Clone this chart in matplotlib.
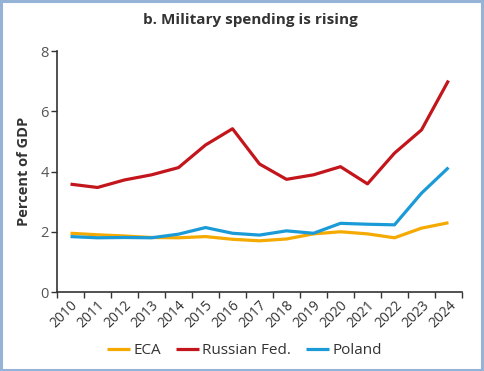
import matplotlib
matplotlib.use("Agg")
import matplotlib.pyplot as plt
from matplotlib.patches import Rectangle
import numpy as np

years = [str(y) for y in range(2010, 2025)]
eca = [1.95, 1.90, 1.86, 1.81, 1.80, 1.84, 1.75, 1.70, 1.76, 1.93, 2.00, 1.93, 1.80, 2.12, 2.30]
russia = [3.58, 3.47, 3.72, 3.89, 4.13, 4.88, 5.42, 4.25, 3.74, 3.89, 4.16, 3.59, 4.61, 5.38, 7.02]
poland = [1.84, 1.80, 1.81, 1.80, 1.92, 2.14, 1.95, 1.89, 2.03, 1.95, 2.28, 2.25, 2.23, 3.28, 4.13]
yticks = [0, 2, 4, 6, 8]

plt.rcParams['font.family'] = ['Open Sans', 'DejaVu Sans']
text_color = '#333333'

fig = plt.figure(figsize=(4.84, 3.71), dpi=100)
ax = fig.add_axes([0.1178, 0.2129, 0.8367, 0.6496])

x = np.arange(len(years))
ax.plot(x, eca, color='#F4AA00', lw=2.3, label='ECA', solid_capstyle='butt')
ax.plot(x, russia, color='#C3161C', lw=2.3, label='Russian Fed.', solid_capstyle='butt')
ax.plot(x, poland, color='#1A9BD7', lw=2.3, label='Poland', solid_capstyle='butt')

ax.set_xlim(-0.5, len(years) - 0.5)
ax.set_ylim(0, 8)
ax.set_yticks(yticks)
ax.set_yticklabels([str(v) for v in yticks], fontsize=10.5, color='#555555')
ax.set_xticks(np.arange(-0.5, len(years), 1.0))
ax.set_xticklabels([])
ax.set_xticks(x, minor=True)
ax.set_xticklabels(years, minor=True, rotation=45, ha='right', va='top',
                   rotation_mode='anchor', fontsize=10, color=text_color)
ax.tick_params(axis='x', which='minor', length=0, pad=4)
ax.tick_params(axis='x', which='major', length=4, width=1, color='#333333', direction='out')
ax.tick_params(axis='y', length=4, width=1, color='#333333', direction='out', pad=2)
for s in ['top', 'right']:
    ax.spines[s].set_visible(False)
for s in ['left', 'bottom']:
    ax.spines[s].set_color('#333333')
    ax.spines[s].set_linewidth(1.2)

ax.set_ylabel('Percent of GDP', fontsize=10.5, fontweight='bold', color=text_color, labelpad=7)

fig.text(0.517, 0.945, 'b. Military spending is rising', ha='center', va='center',
         fontsize=11, fontweight='bold', color=text_color)

leg = fig.legend(loc='center', bbox_to_anchor=(0.505, 0.055), ncol=3, frameon=False,
                 fontsize=11, handlelength=1.5, handletextpad=0.2, columnspacing=1.0)
for t in leg.get_texts():
    t.set_color(text_color)

fig.patches.append(Rectangle((0.002, 0.003), 0.994, 0.993, transform=fig.transFigure,
                             fill=False, edgecolor='#95B3D7', lw=2.2))

fig.savefig('out.png', dpi=100)
